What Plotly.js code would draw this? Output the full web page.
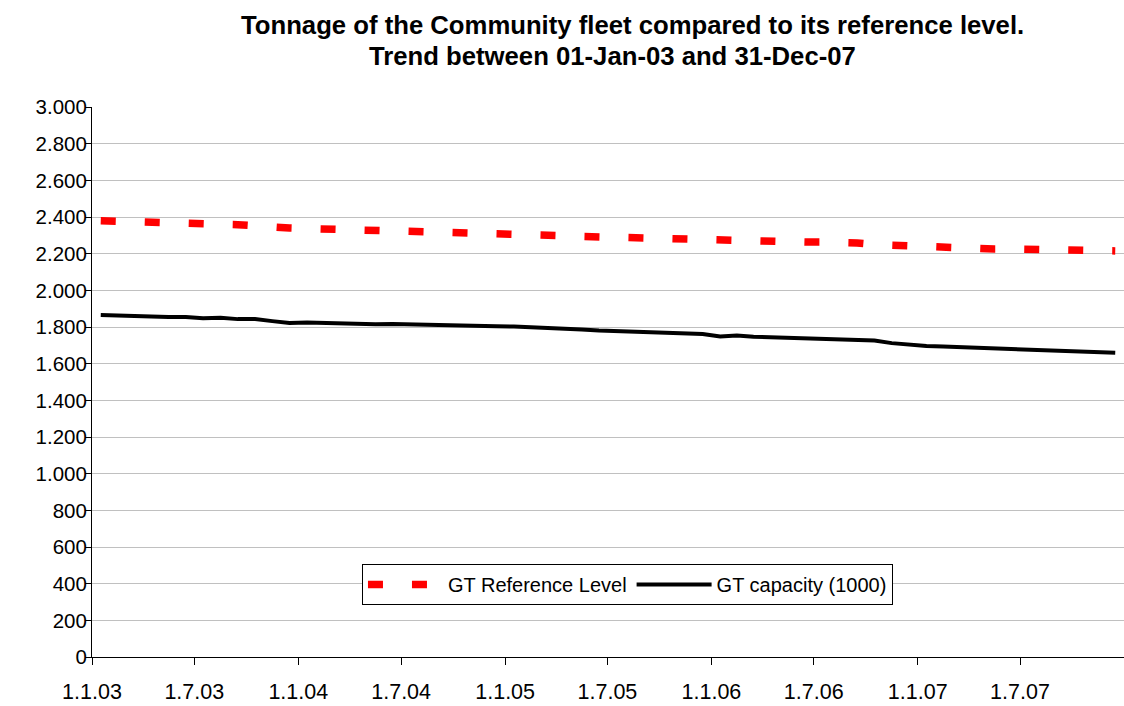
<!DOCTYPE html>
<html>
<head>
<meta charset="utf-8">
<script src="https://cdn.plot.ly/plotly-3.0.1.min.js"></script>
<style>html,body{margin:0;padding:0;background:#fff;}#chart{width:1124px;height:706px;}</style>
</head>
<body>
<div id="chart"></div>
<script>
// Monthly observations, Jan 2003 - Dec 2007
var startYear = 2003, nMonths = 60;
var months = [];
for (var i = 0; i < nMonths; i++) {
  var y = startYear + Math.floor(i / 12), m = (i % 12) + 1;
  months.push(y + "-" + (m < 10 ? "0" + m : m) + "-01");
}

var referenceLevel = [
  2380, 2376, 2371, 2369, 2367, 2365, 2363, 2360, 2358, 2350, 2342, 2340,
  2337, 2335, 2331, 2328, 2327, 2326, 2325, 2323, 2321, 2316, 2310, 2307,
  2305, 2304, 2302, 2298, 2294, 2291, 2289, 2287, 2285, 2283, 2280, 2275,
  2271, 2269, 2267, 2265, 2264, 2263, 2263, 2263, 2258, 2250, 2245, 2240,
  2235, 2232, 2228, 2225, 2225, 2225, 2224, 2222, 2220, 2219, 2217, 2215
];

var capacity = [
  1865, 1864, 1860, 1857, 1855, 1855, 1848, 1851, 1843, 1843, 1832, 1822,
  1824, 1821, 1819, 1813, 1815, 1817, 1814, 1812, 1810, 1805, 1807, 1804,
  1803, 1800, 1796, 1790, 1787, 1781, 1778, 1775, 1773, 1771, 1768, 1762,
  1748, 1753, 1747, 1744, 1742, 1740, 1736, 1731, 1727, 1726, 1712, 1703,
  1697, 1693, 1690, 1687, 1684, 1681, 1678, 1675, 1673, 1670, 1664, 1659
];

var tickDates = ["2003-01-01","2003-07-01","2004-01-01","2004-07-01","2005-01-01",
                 "2005-07-01","2006-01-01","2006-07-01","2007-01-01","2007-07-01"];
var tickLabels = ["1.1.03","1.7.03","1.1.04","1.7.04","1.1.05",
                  "1.7.05","1.1.06","1.7.06","1.1.07","1.7.07"];

var titleLines = ["Tonnage of the Community fleet compared to its reference level.",
                  "Trend between 01-Jan-03 and 31-Dec-07"];

var FONT = "Liberation Sans, Arial, sans-serif";

var traces = [
  {
    x: months, y: referenceLevel, name: "GT Reference Level",
    type: "scatter", mode: "lines",
    xperiod: "M1", xperiodalignment: "middle",
    line: {color: "#ff0000", width: 7.5, dash: "15px,29px"}
  },
  {
    x: months, y: capacity, name: "GT capacity (1000)",
    type: "scatter", mode: "lines",
    xperiod: "M1", xperiodalignment: "middle",
    line: {color: "#000000", width: 4}
  }
];

var layout = {
  width: 1124, height: 706,
  margin: {l: 92, r: 0, t: 107, b: 49, pad: 0},
  paper_bgcolor: "#ffffff", plot_bgcolor: "#ffffff",
  separators: ",.",
  font: {family: FONT, color: "#000000", size: 20},
  annotations: [
    {text: "<b>" + titleLines[0] + "</b>", xref: "paper", yref: "paper",
     x: 0.5233, y: 1.149, xanchor: "center", yanchor: "middle", showarrow: false,
     font: {family: FONT, size: 25.7, color: "#000"}},
    {text: "<b>" + titleLines[1] + "</b>", xref: "paper", yref: "paper",
     x: 0.5039, y: 1.0927, xanchor: "center", yanchor: "middle", showarrow: false,
     font: {family: FONT, size: 25.7, color: "#000"}}
  ],
  xaxis: {
    type: "date",
    range: ["2003-01-01", "2008-01-01"],
    tickmode: "array", tickvals: tickDates, ticktext: tickLabels,
    ticks: "outside", ticklen: 7, tickcolor: "#000", tickwidth: 1,
    ticklabelstandoff: 8,
    showline: true, linecolor: "#000", linewidth: 1,
    showgrid: false, zeroline: false,
    tickfont: {family: FONT, size: 21.5, color: "#000"}
  },
  yaxis: {
    range: [0, 3000], dtick: 200, tick0: 0,
    tickformat: ",d",
    ticks: "outside", ticklen: 6, tickcolor: "#000", tickwidth: 1,
    ticklabelstandoff: -6,
    showline: true, linecolor: "#000", linewidth: 1,
    showgrid: true, gridcolor: "#c0c0c0", gridwidth: 1,
    zeroline: false,
    tickfont: {family: FONT, size: 20.5, color: "#000"}
  },
  showlegend: true,
  legend: {
    orientation: "h",
    x: 0.2616, xanchor: "left",
    y: 0.169, yanchor: "top",
    bgcolor: "#ffffff", bordercolor: "#000000", borderwidth: 1,
    font: {family: FONT, size: 20, color: "#000"},
    itemwidth: 75,
    traceorder: "normal"
  }
};

Plotly.newPlot("chart", traces, layout, {staticPlot: true, displayModeBar: false});
</script>
</body>
</html>
